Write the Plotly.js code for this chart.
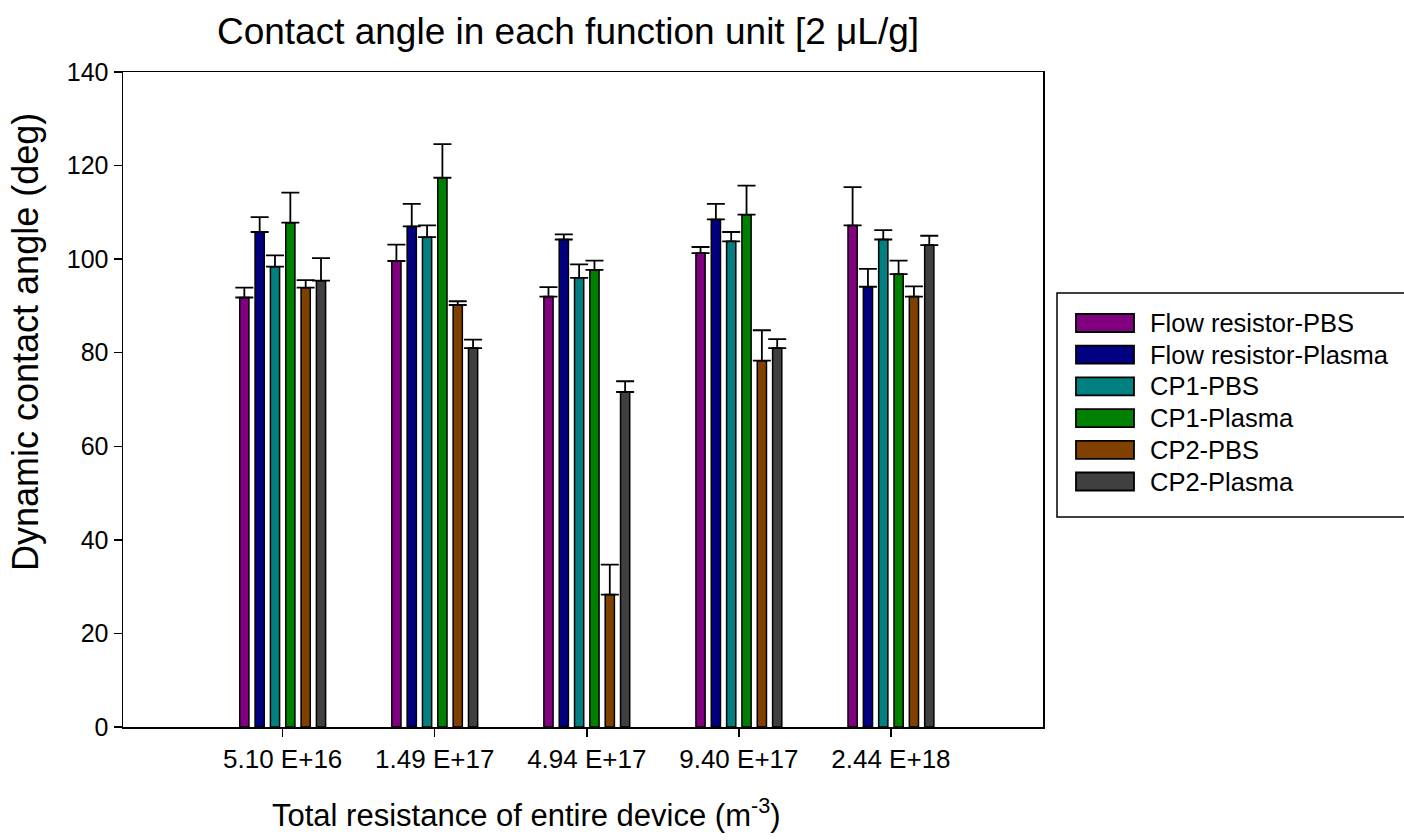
<!DOCTYPE html>
<html>
<head>
<meta charset="utf-8">
<script src="https://cdn.plot.ly/plotly-3.0.1.min.js"></script>
<style>html,body{margin:0;padding:0;background:#fff;}#chart{width:1404px;height:840px;}</style>
</head>
<body>
<div id="chart"></div>
<script>
const categories = ['5.10 E+16', '1.49 E+17', '4.94 E+17', '9.40 E+17', '2.44 E+18'];
const seriesNames = ['Flow resistor-PBS', 'Flow resistor-Plasma', 'CP1-PBS', 'CP1-Plasma', 'CP2-PBS', 'CP2-Plasma'];
const seriesColors = ['#800080', '#000080', '#008080', '#008000', '#804000', '#404040'];

const flowResistorPBS = [91.8, 99.6, 92.0, 101.3, 107.2];
const flowResistorPBSErr = [2.1, 3.5, 2.0, 1.3, 8.2];
const flowResistorPlasma = [105.8, 107.0, 104.2, 108.5, 94.1];
const flowResistorPlasmaErr = [3.2, 4.8, 1.1, 3.3, 3.8];
const cp1PBS = [98.4, 104.7, 96.0, 103.8, 104.2];
const cp1PBSErr = [2.4, 2.5, 2.9, 2.0, 2.0];
const cp1Plasma = [107.8, 117.4, 97.7, 109.5, 96.8];
const cp1PlasmaErr = [6.4, 7.2, 2.0, 6.2, 2.9];
const cp2PBS = [93.9, 90.2, 28.3, 78.3, 92.0];
const cp2PBSErr = [1.6, 0.8, 6.4, 6.5, 2.2];
const cp2Plasma = [95.4, 81.0, 71.6, 81.0, 103.0];
const cp2PlasmaErr = [4.8, 1.8, 2.3, 1.9, 2.0];

const titleText = 'Contact angle in each function unit [2 μL/g]';
const xTitleText = 'Total resistance of entire device (m<sup>-3</sup>)';
const yTitleText = 'Dynamic contact angle (deg)';

const seriesValues = [flowResistorPBS, flowResistorPlasma, cp1PBS, cp1Plasma, cp2PBS, cp2Plasma];
const seriesErrors = [flowResistorPBSErr, flowResistorPlasmaErr, cp1PBSErr, cp1PlasmaErr, cp2PBSErr, cp2PlasmaErr];

const FONT = 'Liberation Sans, Arial, sans-serif';

const traces = seriesNames.map((name, i) => ({
  type: 'bar',
  name: name,
  x: categories,
  y: seriesValues[i],
  marker: {color: seriesColors[i], line: {color: '#000', width: 1.5}},
  error_y: {type: 'data', symmetric: false, array: seriesErrors[i],
            arrayminus: seriesErrors[i].map(() => 0), color: '#000', thickness: 1.8, width: 9},
  showlegend: false
}));

// plot area 123..1043 px horizontally, 72..727 px vertically
const PL = 123, PW = 920, PT = 72, PH = 655;
const px2x = p => (p - PL) / PW;
const px2y = p => (PT + PH - p) / PH;

const shapes = [{
  type: 'rect', xref: 'paper', yref: 'paper',
  x0: px2x(1057), x1: px2x(1420), y0: px2y(517), y1: px2y(293),
  line: {color: '#000', width: 1.5}, fillcolor: 'rgba(0,0,0,0)'
}];
const annotations = [];
seriesNames.forEach((name, i) => {
  const cy = 323 + i * 31.7;
  shapes.push({
    type: 'rect', xref: 'paper', yref: 'paper',
    x0: px2x(1076), x1: px2x(1134), y0: px2y(cy + 9), y1: px2y(cy - 9),
    line: {color: '#000', width: 1.8}, fillcolor: seriesColors[i]
  });
  annotations.push({
    xref: 'paper', yref: 'paper', x: px2x(1148), y: px2y(cy),
    xanchor: 'left', yanchor: 'middle', showarrow: false,
    text: name, font: {family: FONT, size: 25.5, color: '#000'}
  });
});
annotations.push({
  xref: 'paper', yref: 'paper', x: px2x(526), y: px2y(813),
  xanchor: 'center', yanchor: 'middle', showarrow: false,
  text: xTitleText, font: {family: FONT, size: 31, color: '#000'}
});
annotations.push({
  xref: 'paper', yref: 'paper', x: px2x(25), y: px2y(342),
  xanchor: 'center', yanchor: 'middle', showarrow: false, textangle: -90,
  text: yTitleText, font: {family: FONT, size: 36, color: '#000'}
});

const layout = {
  width: 1404, height: 840,
  paper_bgcolor: '#fff', plot_bgcolor: '#fff',
  margin: {l: PL, r: 1404 - PL - PW, t: PT, b: 840 - PT - PH, pad: 0},
  font: {family: FONT, color: '#000'},
  title: {text: titleText, font: {family: FONT, size: 37, color: '#000'},
          xref: 'container', x: 568 / 1404, xanchor: 'center', yref: 'container', y: 1 - 31 / 840, yanchor: 'middle'},
  barmode: 'group',
  bargap: 0.395,
  bargroupgap: 0.4,
  xaxis: {
    type: 'category', range: [-1.05, 5.0],
    showline: true, linecolor: '#000', linewidth: 1.5, mirror: true,
    ticks: 'outside', ticklen: 8, tickcolor: '#000', tickwidth: 1.5,
    showgrid: false, zeroline: false,
    tickfont: {family: FONT, size: 26, color: '#000'}
  },
  yaxis: {
    range: [0, 140], tickvals: [0, 20, 40, 60, 80, 100, 120, 140],
    showline: true, linecolor: '#000', linewidth: 1.5, mirror: true,
    ticks: 'outside', ticklen: 8, tickcolor: '#000', tickwidth: 1.5,
    showgrid: false, zeroline: false,
    tickfont: {family: FONT, size: 25, color: '#000'}
  },
  shapes: shapes,
  annotations: annotations
};

Plotly.newPlot('chart', traces, layout, {displayModeBar: false, staticPlot: true});
</script>
</body>
</html>
